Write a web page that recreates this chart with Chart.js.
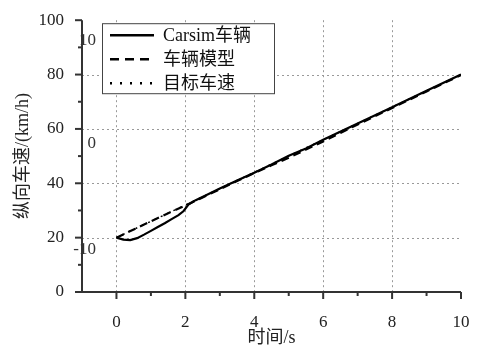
<!DOCTYPE html>
<html>
<head>
<meta charset="utf-8">
<script src="https://cdn.jsdelivr.net/npm/chart.js@4.4.0/dist/chart.umd.min.js"></script>
<style>
  html,body{margin:0;padding:0;background:#fff;}
  #wrap{width:487px;height:353px;}
</style>
</head>
<body>
<div id="wrap"><canvas id="c" width="487" height="353"></canvas></div>
<script>
// data
const seriesNames = ['Carsim车辆', '车辆模型', '目标车速'];
const carsimT = [0, 0.2, 0.4, 0.6, 0.8, 1.0, 1.2, 1.4, 1.6, 1.8, 1.95, 2.1, 2.3, 2.6, 3, 3.5, 4, 4.5, 5, 5.5, 6, 7, 8, 9, 10];
const carsimV = [20, 19.3, 19.1, 19.8, 21.1, 22.5, 23.9, 25.3, 26.8, 28.3, 29.8, 32.3, 33.8, 35.6, 38.1, 41, 43.9, 46.9, 50.1, 52.8, 56, 62, 68, 74, 80];
const modelT = [0, 0.5, 1, 1.5, 2, 2.5, 3, 3.5, 4, 4.5, 5, 5.5, 6, 6.5, 7, 8, 9, 10];
const modelV = [20, 23, 26, 29, 31.8, 34.8, 37.8, 40.8, 43.8, 46.6, 49.4, 52.4, 55.4, 58.5, 61.6, 67.7, 73.8, 79.8];
const targetT = [0, 1, 2, 3, 4, 5, 6, 7, 8, 9, 10];
const targetV = [20, 26, 32, 38, 44, 50, 56, 62, 68, 74, 80];
const xTicks = [0, 2, 4, 6, 8, 10];
const yTicks = [0, 20, 40, 60, 80, 100];

const pts = (t, v) => t.map((x, i) => ({x: x, y: v[i]}));
const serif = '"Liberation Serif", "Noto Sans CJK SC", serif';

// grid, axes and tick marks drawn by hand
const axesPlugin = {
  id: 'axes',
  beforeDatasetsDraw(chart) {
    const {ctx, chartArea: a, scales: {x, y}} = chart;
    ctx.save();
    ctx.strokeStyle = '#999';
    ctx.lineWidth = 1;
    ctx.setLineDash([2, 3]);
    [0, 2, 4, 6, 8].forEach(v => {
      const px = Math.round(x.getPixelForValue(v)) + 0.5;
      ctx.beginPath(); ctx.moveTo(px, a.top); ctx.lineTo(px, a.bottom); ctx.stroke();
    });
    [20, 40, 60, 80].forEach(v => {
      const py = Math.round(y.getPixelForValue(v)) + 0.5;
      ctx.beginPath(); ctx.moveTo(a.left, py); ctx.lineTo(a.right, py); ctx.stroke();
    });
    ctx.setLineDash([]);
    ctx.strokeStyle = '#333';
    ctx.lineWidth = 2;
    ctx.beginPath();
    ctx.moveTo(a.left, a.top); ctx.lineTo(a.left, a.bottom); ctx.lineTo(a.right, a.bottom);
    ctx.stroke();
    // x ticks
    for (let v = 0; v <= 10; v++) {
      const px = x.getPixelForValue(v);
      const len = v % 2 === 0 ? 7 : 4;
      ctx.beginPath(); ctx.moveTo(px, a.bottom); ctx.lineTo(px, a.bottom + len); ctx.stroke();
    }
    for (let v = 0; v <= 100; v += 10) {
      const py = y.getPixelForValue(v);
      const len = v % 20 === 0 ? 7 : 4;
      ctx.beginPath(); ctx.moveTo(a.left, py); ctx.lineTo(a.left - len, py); ctx.stroke();
    }
    ctx.restore();
  },
  afterDraw(chart) {
    const {ctx, chartArea: a, scales: {y}} = chart;
    ctx.save();
    // leftover labels inside the plot
    ctx.fillStyle = '#333';
    ctx.font = '17px ' + serif;
    ctx.textBaseline = 'middle';
    ctx.textAlign = 'right';
    ctx.fillText('10', a.left + 14, y.getPixelForValue(92.5));
    ctx.fillText('0', a.left + 14, y.getPixelForValue(54.5));
    ctx.fillText('-10', a.left + 14, y.getPixelForValue(15.5));
    // legend
    const lx = a.left + 20, ly = a.top + 3, lw = 172, lh = 70;
    ctx.fillStyle = '#fff';
    ctx.fillRect(lx, ly, lw, lh);
    ctx.strokeStyle = '#444';
    ctx.lineWidth = 1;
    ctx.strokeRect(lx + 0.5, ly + 0.5, lw, lh);
    ctx.textAlign = 'left';
    const sampleDash = [[], [9, 6], [2, 8]];
    chart.data.datasets.forEach((ds, i) => {
      const cy = ly + 12 + i * 24;
      ctx.strokeStyle = '#000';
      ctx.lineWidth = 2.5;
      ctx.setLineDash(sampleDash[i]);
      ctx.beginPath(); ctx.moveTo(lx + 8, cy); ctx.lineTo(lx + 52, cy); ctx.stroke();
      ctx.setLineDash([]);
      ctx.fillStyle = '#111';
      ctx.font = '18px ' + serif;
      ctx.fillText(ds.label, lx + 61, cy + 1);
    });
    ctx.restore();
  }
};

new Chart(document.getElementById('c'), {
  type: 'line',
  data: {
    datasets: [
      {label: seriesNames[0], data: pts(carsimT, carsimV), borderColor: '#000', borderWidth: 2.2, order: 1},
      {label: seriesNames[1], data: pts(modelT, modelV), borderColor: '#000', borderWidth: 2.2, borderDash: [8, 5], order: 2},
      {label: seriesNames[2], data: pts(targetT, targetV), borderColor: '#000', borderWidth: 1.5, borderDash: [2, 5], order: 3}
    ]
  },
  options: {
    responsive: false,
    animation: false,
    layout: {padding: {top: 12, right: 26, left: 0, bottom: 0}},
    elements: {point: {radius: 0}, line: {tension: 0}},
    plugins: {legend: {display: false}, tooltip: {enabled: false}},
    scales: {
      x: {
        type: 'linear', min: -1, max: 10,
        grid: {display: false}, border: {display: false},
        afterBuildTicks: s => { s.ticks = xTicks.map(v => ({value: v})); },
        afterFit: s => { s.height = 61; },
        ticks: {color: '#222', padding: 12, maxRotation: 0, font: {family: serif, size: 17}},
        title: {display: true, text: '时间/s', color: '#222', padding: {top: 0}, font: {family: serif, size: 18}}
      },
      y: {
        min: 0, max: 100,
        grid: {display: false}, border: {display: false},
        afterBuildTicks: s => { s.ticks = yTicks.map(v => ({value: v})); },
        afterFit: s => { s.width = 82; },
        ticks: {color: '#222', padding: 10, font: {family: serif, size: 17}},
        title: {display: true, text: '纵向车速/(km/h)', color: '#222', padding: {top: 12, bottom: 0}, font: {family: serif, size: 18}}
      }
    }
  },
  plugins: [axesPlugin]
});
</script>
</body>
</html>
